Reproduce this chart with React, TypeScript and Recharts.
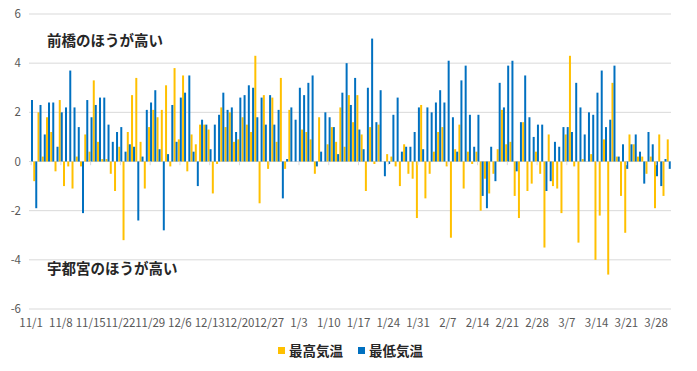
import React from 'react';
import { BarChart, Bar, XAxis, YAxis, CartesianGrid, ReferenceLine } from 'recharts';

const dates = [
  '11/1','11/2','11/3','11/4','11/5','11/6','11/7','11/8','11/9','11/10','11/11','11/12','11/13','11/14','11/15','11/16','11/17','11/18','11/19','11/20','11/21','11/22','11/23','11/24','11/25','11/26','11/27','11/28','11/29','11/30',
  '12/1','12/2','12/3','12/4','12/5','12/6','12/7','12/8','12/9','12/10','12/11','12/12','12/13','12/14','12/15','12/16','12/17','12/18','12/19','12/20','12/21','12/22','12/23','12/24','12/25','12/26','12/27','12/28','12/29','12/30','12/31',
  '1/1','1/2','1/3','1/4','1/5','1/6','1/7','1/8','1/9','1/10','1/11','1/12','1/13','1/14','1/15','1/16','1/17','1/18','1/19','1/20','1/21','1/22','1/23','1/24','1/25','1/26','1/27','1/28','1/29','1/30','1/31',
  '2/1','2/2','2/3','2/4','2/5','2/6','2/7','2/8','2/9','2/10','2/11','2/12','2/13','2/14','2/15','2/16','2/17','2/18','2/19','2/20','2/21','2/22','2/23','2/24','2/25','2/26','2/27','2/28',
  '3/1','3/2','3/3','3/4','3/5','3/6','3/7','3/8','3/9','3/10','3/11','3/12','3/13','3/14','3/15','3/16','3/17','3/18','3/19','3/20','3/21','3/22','3/23','3/24','3/25','3/26','3/27','3/28','3/29','3/30','3/31',
];

// 最高気温の差（前橋 − 宇都宮）
const maxTempDiff: (number | null)[] = [
  null, -0.8, 2.0, 0.2, 1.8, 1.2, -0.4, 2.5, -1.0, -0.2,
  -1.1, 0.2, -0.2, 1.1, 0.4, 3.3, 0.8, 0.1, 0.1, -0.5,
  -1.2, 0.6, -3.2, 1.2, 2.7, 3.4, 0.8, -1.1, 1.4, 2.1,
  1.8, 2.1, 3.1, -0.2, 3.8, 0.9, 3.5, -0.4, 1.1, 0.7,
  1.5, 1.5, 1.3, -1.3, -0.1, 2.2, 1.4, 2.0, 0.8, 0.9,
  1.8, 1.5, 1.2, 4.3, -1.7, 2.7, -0.3, 2.6, 0.8, 3.4,
  -0.3, 2.1, 0, 0, 1.3, 1.2, 0.9, -0.5, 1.8, 0,
  0.7, 1.4, 0.8, 2.2, 0.6, 2.7, 1.6, 2.7, 1.1, -1.2,
  1.4, -0.1, 1.5, 0, 0.3, 0.2, -0.2, -1.0, 0.7, -0.5,
  -0.7, -2.3, 2.3, -1.5, -0.5, 0.4, 1.2, 1.4, -0.2, -3.1,
  0.5, 1.5, -1.1, 0.4, -0.1, 0.4, -2.0, -0.7, -1.3, -0.5,
  0.5, 2.1, 0.7, 0.8, -1.4, -2.3, 1.6, -1.2, -0.9, 0.4,
  -0.5, -3.5, 1.1, -1.0, -1.1, -2.1, 1.1, 4.3, -0.2, -3.3,
  0.1, 0, 0.3, -4.0, -2.2, 0.9, -4.6, 3.2, 0.2, -1.4,
  -2.9, 1.1, 0.7, 0.2, 0.2, -0.5, 0.2, -1.9, 1.1, -1.4,
  0.9,
];

// 最低気温の差（前橋 − 宇都宮）
const minTempDiff: number[] = [
  2.5, -1.9, 2.3, 1.1, 2.4, 2.4, 0.6, 2.0, 2.2, 3.7,
  2.2, 1.4, -2.1, 2.5, 1.8, 2.3, 2.6, 2.6, 1.5, 0.8,
  1.2, 1.4, 0.4, 0.7, 0.6, -2.4, 0.2, 2.1, 2.4, 2.9,
  0.5, -2.8, 0.3, 2.3, 0.8, 2.6, 2.8, 3.5, 0.4, -1.0,
  1.7, 1.5, 0.5, 1.5, 1.9, 2.8, 2.1, 2.2, 1.2, 2.6,
  2.7, 3.1, 3.0, 1.8, 2.6, 1.5, 2.7, 1.5, 2.1, -1.5,
  0.1, 2.2, 1.7, 3.0, 2.7, 3.2, 3.5, -0.2, 0.4, 2.0,
  1.8, 1.4, 0.3, 2.8, 4.0, 2.3, 3.4, 1.3, 0.5, 3.0,
  5.0, 1.6, 2.9, -0.6, -0.1, 1.9, 2.6, 0.4, 0.6, 0.6,
  1.2, 2.2, 0.5, 2.2, 2.0, 2.4, 2.9, 2.4, 4.1, 1.8,
  0.4, 3.3, 3.9, 1.9, 0.6, 1.9, -1.4, -1.9, 0.6, -0.8,
  3.2, 2.2, 3.9, 4.1, -0.4, 1.6, 3.5, 1.8, 1.0, 1.5,
  1.5, -1.2, -0.8, 0.8, 0.6, 1.4, 1.4, 1.2, 3.2, 2.2,
  1.1, 2.0, 1.9, 2.8, 3.7, 1.4, 1.7, 3.9, 0.2, 0.7,
  -0.3, 0.7, 1.1, 0.4, -0.9, 1.2, 0.7, -0.6, -1.0, 0.1,
  -0.3,
];

const xTicks = ['11/1','11/8','11/15','11/22','11/29','12/6','12/13','12/20','12/27','1/3','1/10','1/17','1/24','1/31','2/7','2/14','2/21','2/28','3/7','3/14','3/21','3/28'];
const yTicks = [-6, -4, -2, 0, 2, 4, 6];

const seriesNames = ['最高気温', '最低気温'];
const upperNote = '前橋のほうが高い';
const lowerNote = '宇都宮のほうが高い';

const YELLOW = '#FFC000';
const BLUE = '#0070C0';
const FONT = '"Noto Sans CJK JP", "Noto Sans", sans-serif';

const data = dates.map((d, i) => ({ date: d, max: maxTempDiff[i], min: minTempDiff[i] }));

export default function App() {
  return (
    <div style={{ position: 'absolute', left: 0, top: 0, width: 697, height: 371, background: '#fff', fontFamily: FONT }}>
      <BarChart
        width={697}
        height={371}
        data={data}
        margin={{ top: 14, right: 26, bottom: 32, left: 0 }}
        barCategoryGap={0}
        barGap={0}
      >
        <CartesianGrid horizontal vertical={false} stroke="#d9d9d9" strokeWidth={1} />
        <XAxis
          dataKey="date"
          ticks={xTicks}
          interval={0}
          axisLine={false}
          tickLine={false}
          tickMargin={3.5}
          height={30}
          tick={{ fontSize: 11.5, fill: '#595959', fontFamily: FONT }}
        />
        <YAxis
          domain={[-6, 6]}
          ticks={yTicks}
          width={29}
          axisLine={false}
          tickLine={false}
          tickFormatter={(v: number) => (v < 0 ? '-' + Math.abs(v) : String(v))}
          tick={{ fontSize: 11.5, fill: '#595959', fontFamily: FONT }}
        />
        {xTicks.map((t) => (
          <ReferenceLine
            key={'tk' + t}
            segment={[{ x: t, y: 0 }, { x: t, y: -0.15 }]}
            stroke="#d9d9d9"
            strokeWidth={1}
          />
        ))}
        <Bar dataKey="max" name={seriesNames[0]} fill={YELLOW} isAnimationActive={false} />
        <Bar dataKey="min" name={seriesNames[1]} fill={BLUE} isAnimationActive={false} />
      </BarChart>

      <div style={{ position: 'absolute', left: 47, top: 31, fontSize: 14.5, lineHeight: '18px', fontWeight: 700, color: '#262626', whiteSpace: 'nowrap' }}>
        {upperNote}
      </div>
      <div style={{ position: 'absolute', left: 47, top: 259, fontSize: 14.5, lineHeight: '18px', fontWeight: 700, color: '#262626', whiteSpace: 'nowrap' }}>
        {lowerNote}
      </div>

      <div style={{ position: 'absolute', left: 278, top: 341, height: 18, display: 'flex', alignItems: 'center', whiteSpace: 'nowrap' }}>
        <span style={{ display: 'inline-block', width: 7, height: 7, background: YELLOW, marginRight: 4 }} />
        <span style={{ fontSize: 13.5, fontWeight: 700, color: '#262626', lineHeight: '18px' }}>{seriesNames[0]}</span>
      </div>
      <div style={{ position: 'absolute', left: 358, top: 341, height: 18, display: 'flex', alignItems: 'center', whiteSpace: 'nowrap' }}>
        <span style={{ display: 'inline-block', width: 7, height: 7, background: BLUE, marginRight: 4 }} />
        <span style={{ fontSize: 13.5, fontWeight: 700, color: '#262626', lineHeight: '18px' }}>{seriesNames[1]}</span>
      </div>
    </div>
  );
}
